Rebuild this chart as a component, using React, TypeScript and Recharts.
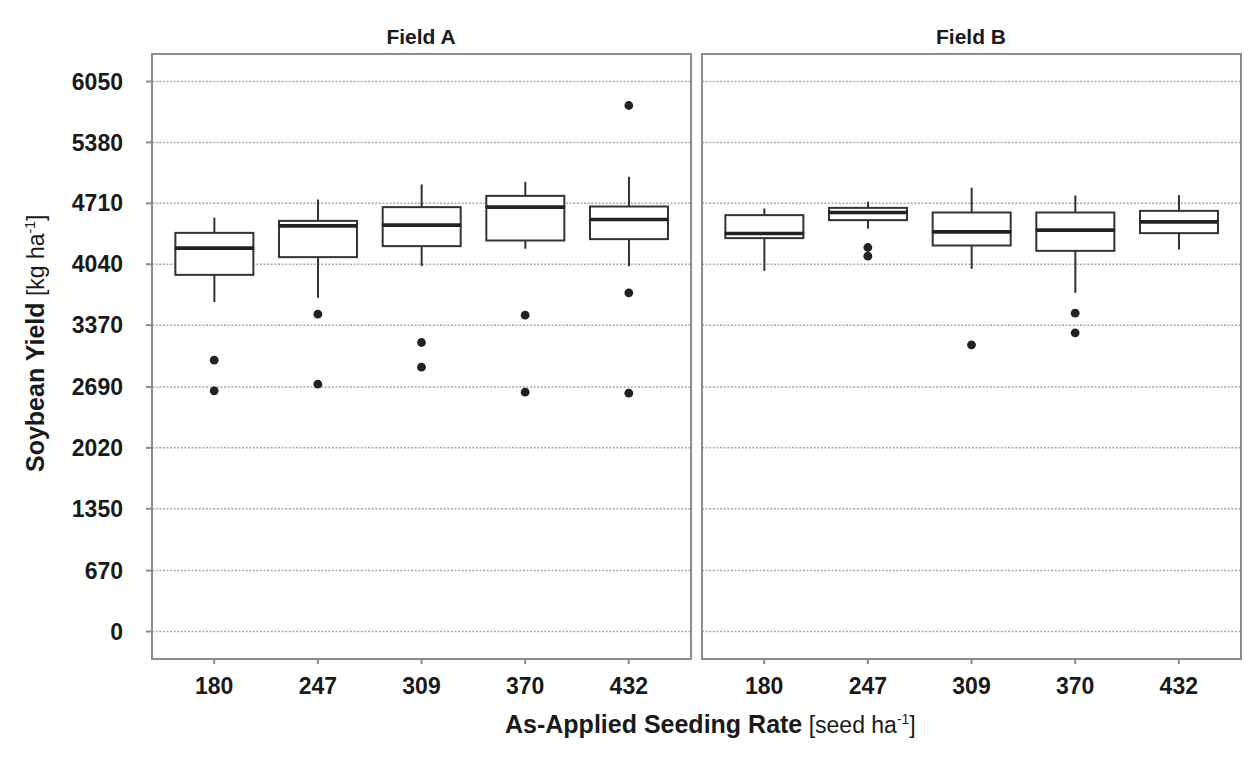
import React from 'react';
import { Bar, CartesianGrid, ComposedChart, ReferenceArea, Scatter, XAxis, YAxis } from 'recharts';

// Soybean yield by as-applied seeding rate, two fields side by side.
// Box stats (kg/ha).

const rates = ['180', '247', '309', '370', '432'];
const yTicks = [0, 670, 1350, 2020, 2690, 3370, 4040, 4710, 5380, 6050];

const fieldAWhiskerLow = [3623, 3670, 4019, 4209, 4019];
const fieldAQ1 = [3923, 4118, 4239, 4301, 4316];
const fieldAMedian = [4217, 4462, 4470, 4668, 4532];
const fieldAQ3 = [4385, 4517, 4668, 4792, 4675];
const fieldAWhiskerHigh = [4550, 4752, 4917, 4946, 5001];
const fieldAOutliers = [[2985, 2647], [3491, 2721], [3179, 2908], [3480, 2633], [5786, 3725, 2622]];

const fieldBWhiskerLow = [3967, 4429, 3989, 3725, 4202];
const fieldBQ1 = [4327, 4525, 4246, 4187, 4382];
const fieldBMedian = [4378, 4609, 4396, 4415, 4506];
const fieldBQ3 = [4580, 4660, 4609, 4609, 4627];
const fieldBWhiskerHigh = [4653, 4726, 4880, 4796, 4800];
const fieldBOutliers = [[], [4224, 4129], [3153], [3502, 3285], []];

const FONT = '"Liberation Sans", Arial, Helvetica, sans-serif';
const INK = '#1a1a1a';
const BOX = '#333333';
const FRAME = '#8c8c8c';
const Y_DOMAIN: [number, number] = [-302.5, 6352.5];
const X_DOMAIN: [number, number] = [0.4, 5.6];

interface Stats {
  lo: number[];
  q1: number[];
  med: number[];
  q3: number[];
  hi: number[];
  out: number[][];
}

// stacked segments: invisible base, lower whisker, lower box, upper box, upper whisker
function toRows(s: Stats) {
  return rates.map((_, i) => ({
    x: i + 1,
    base: s.lo[i],
    wLo: s.q1[i] - s.lo[i],
    boxLo: s.med[i] - s.q1[i],
    boxHi: s.q3[i] - s.med[i],
    wHi: s.hi[i] - s.q3[i],
  }));
}

function toPoints(s: Stats) {
  return s.out.flatMap((vals, i) => vals.map((y) => ({ x: i + 1, y })));
}

const Whisker = (p: any) => (
  <line x1={p.x + p.width / 2} x2={p.x + p.width / 2} y1={p.y} y2={p.y + p.height} stroke={BOX} strokeWidth={2} />
);

const BoxLower = (p: any) => (
  <rect x={p.x} y={p.y} width={p.width} height={p.height} fill="#fff" stroke={BOX} strokeWidth={2} />
);

const BoxUpper = (p: any) => (
  <g>
    <rect x={p.x} y={p.y} width={p.width} height={p.height} fill="#fff" stroke={BOX} strokeWidth={2} />
    <line x1={p.x} x2={p.x + p.width} y1={p.y + p.height} y2={p.y + p.height} stroke="#222" strokeWidth={3.6} />
  </g>
);

const Dot = (p: any) => <circle cx={p.cx} cy={p.cy} r={4.4} fill="#222" />;

const NoTick = () => <g />;

function FieldPanel({ stats, showY, width, margin }: { stats: Stats; showY: boolean; width: number; margin: any }) {
  return (
    <ComposedChart width={width} height={759} data={toRows(stats)} margin={margin} barSize={78}>
      <CartesianGrid
        vertical={false}
        horizontalValues={yTicks}
        stroke="#a9a9a9"
        strokeWidth={1.5}
        strokeDasharray="2 1.6"
      />
      <XAxis
        type="number"
        dataKey="x"
        domain={X_DOMAIN}
        ticks={[1, 2, 3, 4, 5]}
        interval={0}
        tickFormatter={(v) => rates[v - 1]}
        height={40}
        axisLine={false}
        tickSize={5}
        tickMargin={14}
        tickLine={{ stroke: FRAME, strokeWidth: 2 }}
        tick={{ fontSize: 23, fontWeight: 700, fill: INK, fontFamily: FONT }}
      />
      <YAxis
        type="number"
        domain={Y_DOMAIN}
        allowDataOverflow
        ticks={yTicks}
        interval={0}
        width={showY ? 152 : 0}
        axisLine={false}
        tick={showY ? { fontSize: 23, fontWeight: 700, fill: INK, fontFamily: FONT } : NoTick}
        tickLine={showY ? { stroke: FRAME, strokeWidth: 2 } : false}
        tickSize={6}
        tickMargin={23}
      />
      <Bar dataKey="base" stackId="box" fill="none" isAnimationActive={false} />
      <Bar dataKey="wLo" stackId="box" shape={Whisker} isAnimationActive={false} />
      <Bar dataKey="boxLo" stackId="box" shape={BoxLower} isAnimationActive={false} />
      <Bar dataKey="boxHi" stackId="box" shape={BoxUpper} isAnimationActive={false} />
      <Bar dataKey="wHi" stackId="box" shape={Whisker} isAnimationActive={false} />
      <Scatter data={toPoints(stats)} dataKey="y" shape={Dot} isAnimationActive={false} />
      <ReferenceArea
        x1={X_DOMAIN[0]}
        x2={X_DOMAIN[1]}
        y1={Y_DOMAIN[0]}
        y2={Y_DOMAIN[1]}
        ifOverflow="visible"
        fill="none"
        stroke={FRAME}
        strokeWidth={2}
      />
    </ComposedChart>
  );
}

export default function App() {
  const fieldA: Stats = {
    lo: fieldAWhiskerLow, q1: fieldAQ1, med: fieldAMedian, q3: fieldAQ3, hi: fieldAWhiskerHigh, out: fieldAOutliers,
  };
  const fieldB: Stats = {
    lo: fieldBWhiskerLow, q1: fieldBQ1, med: fieldBMedian, q3: fieldBQ3, hi: fieldBWhiskerHigh, out: fieldBOutliers,
  };

  return (
    <div style={{ position: 'absolute', left: 0, top: 0, width: 1244, height: 759, background: '#fff', fontFamily: FONT }}>
      <div style={{ position: 'absolute', left: 0, top: 0 }}>
        <FieldPanel stats={fieldA} showY width={700} margin={{ top: 54, right: 9, bottom: 60, left: 0 }} />
      </div>
      <div style={{ position: 'absolute', left: 695, top: 0 }}>
        <FieldPanel stats={fieldB} showY={false} width={549} margin={{ top: 54, right: 3, bottom: 60, left: 7 }} />
      </div>
      <svg width={1244} height={759} style={{ position: 'absolute', left: 0, top: 0, pointerEvents: 'none' }}>
        <g fontFamily={FONT} fill={INK}>
          <text x={421} y={44} fontSize={21} fontWeight={700} textAnchor="middle">Field A</text>
          <text x={971} y={44} fontSize={21} fontWeight={700} textAnchor="middle">Field B</text>
          <text x={505} y={733} fontSize={25}>
            <tspan fontWeight={700}>As-Applied Seeding Rate</tspan>
            <tspan fontSize={23}> [seed ha</tspan>
            <tspan fontSize={14} dy={-9}>-1</tspan>
            <tspan fontSize={23} dy={9}>]</tspan>
          </text>
          <text transform="translate(44,472) rotate(-90)" fontSize={25}>
            <tspan fontWeight={700}>Soybean Yield</tspan>
            <tspan fontSize={23}> [kg ha</tspan>
            <tspan fontSize={14} dy={-9}>-1</tspan>
            <tspan fontSize={23} dy={9}>]</tspan>
          </text>
        </g>
      </svg>
    </div>
  );
}
